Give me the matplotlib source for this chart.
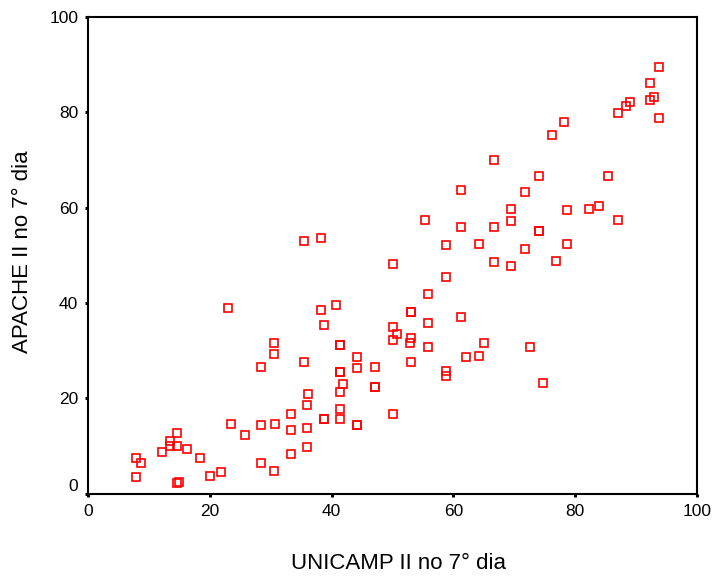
import matplotlib
matplotlib.use("Agg")
import matplotlib.pyplot as plt
import matplotlib.transforms as mtransforms

# UNICAMP II (x) and APACHE II (y) on day 7
unicamp = [93.75, 92.2, 93.0, 92.2, 89.0, 88.3, 87.0, 93.75, 78.2, 76.1,
           66.7, 74.0, 85.4, 61.3, 71.7, 69.4, 78.7, 82.3, 83.9, 55.3,
           61.3, 66.7, 69.4, 74.0, 74.0, 87.0, 58.7, 64.2, 71.7, 78.7,
           35.5, 38.2, 50.1, 66.7, 69.4, 76.9, 58.7, 55.9, 53.0, 53.0,
           61.3, 55.9, 50.1, 50.7, 53.0, 52.8, 50.1, 65.0, 72.5, 55.9,
           64.2, 62.1, 53.0, 58.7, 58.7, 74.7, 50.1, 23.0, 38.2, 40.8,
           38.8, 30.5, 30.5, 41.4, 41.4, 44.2, 28.4, 35.4, 44.2, 47.1,
           41.4, 41.4, 41.9, 41.4, 47.1, 47.1, 36.2, 35.9, 41.4, 33.3,
           23.5, 28.4, 30.7, 38.8, 38.8, 41.4, 44.2, 44.2, 33.3, 35.9,
           25.8, 14.7, 13.4, 13.4, 14.7, 12.1, 16.2, 7.95, 8.7, 18.4,
           33.3, 35.9, 28.4, 30.5, 20.1, 21.9, 7.95, 14.7, 15.0]
apache = [89.5, 86.2, 83.2, 82.5, 82.2, 81.2, 79.9, 78.8, 77.9, 75.2,
          69.9, 66.7, 66.7, 63.7, 63.3, 59.7, 59.4, 59.7, 60.4, 57.4,
          56.0, 56.0, 57.1, 55.1, 55.1, 57.4, 52.1, 52.4, 51.4, 52.4,
          53.1, 53.7, 48.2, 48.5, 47.8, 48.8, 45.5, 41.8, 38.2, 38.2,
          37.1, 35.9, 34.9, 33.6, 32.6, 31.6, 32.3, 31.6, 30.7, 30.7,
          28.9, 28.6, 27.6, 25.8, 24.8, 23.3, 16.8, 38.9, 38.5, 39.5,
          35.3, 31.6, 29.3, 31.2, 31.2, 28.6, 26.6, 27.6, 26.3, 26.6,
          25.6, 25.6, 23.0, 21.4, 22.4, 22.4, 21.0, 18.7, 17.7, 16.8,
          14.7, 14.4, 14.7, 15.7, 15.7, 15.7, 14.4, 14.4, 13.4, 13.8,
          12.4, 12.8, 11.1, 10.1, 10.1, 8.8, 9.4, 7.5, 6.5, 7.5,
          8.4, 9.8, 6.5, 4.8, 3.8, 4.5, 3.5, 2.2, 2.5]
ticks = [0, 20, 40, 60, 80, 100]

plt.rcParams['font.family'] = ['Liberation Sans', 'DejaVu Sans']

fig = plt.figure(figsize=(7.15, 5.79), dpi=100)
ax = fig.add_axes([0.123, 0.147, 0.852, 0.824])

ax.plot(unicamp, apache, linestyle='none', marker='s', markersize=5.6,
        markerfacecolor='none', markeredgecolor='#ff0000', markeredgewidth=1.2)

ax.set_xlim(0, 100)
ax.set_ylim(0, 100)
ax.set_xticks(ticks)
ax.set_yticks(ticks)
ax.tick_params(direction='out', length=2, width=2.2, labelsize=12.5, pad=5)

for sp in ax.spines.values():
    sp.set_linewidth(1.5)

# SPSS lifts the zero label on the y axis a bit
lbl = ax.get_yticklabels()[0]
lbl.set_transform(lbl.get_transform() + mtransforms.ScaledTranslation(0, 0.09, fig.dpi_scale_trans))

fig.text(0.557, 0.027, 'UNICAMP II no 7° dia', fontsize=16, ha='center', va='center')
fig.text(0.031, 0.565, 'APACHE II no 7° dia', fontsize=16, ha='center', va='center',
         rotation=90)

fig.savefig('out.png', dpi=100)
